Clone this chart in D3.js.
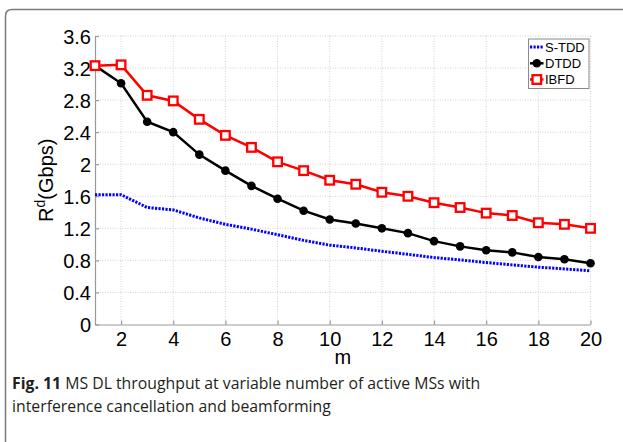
<!DOCTYPE html>
<html><head><meta charset="utf-8">
<script src="https://cdn.jsdelivr.net/npm/d3@7"></script>
<style>html,body{margin:0;padding:0;background:#fff;}svg{display:block;}</style>
</head><body>
<svg id="c" width="623" height="442"></svg>
<script>
const m = d3.range(1, 21);
const seriesNames = ["S-TDD", "DTDD", "IBFD"];
const sTDD = [1.62,1.62,1.46,1.43,1.33,1.25,1.19,1.12,1.05,0.99,0.955,0.914,0.876,0.835,0.806,0.773,0.744,0.715,0.694,0.669];
const dTDD = [3.23,3.01,2.53,2.40,2.12,1.92,1.73,1.57,1.42,1.31,1.26,1.20,1.14,1.04,0.975,0.926,0.90,0.843,0.814,0.764];
const ibfd = [3.23,3.24,2.86,2.79,2.56,2.36,2.21,2.03,1.92,1.80,1.75,1.65,1.60,1.52,1.46,1.39,1.36,1.27,1.25,1.20];
const xTicks = [2,4,6,8,10,12,14,16,18,20];
const yTicks = [0,0.4,0.8,1.2,1.6,2,2.4,2.8,3.2,3.6];
const yTickLabels = ["0","0.4","0.8","1.2","1.6","2","2.4","2.8","3.2","3.6"];
const xLabel = "m";
const captionBold = "Fig. 11";
const captionLines = [" MS DL throughput at variable number of active MSs with", "interference cancellation and beamforming"];

const svg = d3.select("#c");
// frame
svg.append("path")
  .attr("d", "M5.5,460 L5.5,16 Q5.5,9.5 12,9.5 L640,9.5")
  .attr("fill","none").attr("stroke","#7a7a7a").attr("stroke-width",1.5);

const x = d3.scaleLinear().domain([1,20]).range([95,590.5]);
const y = d3.scaleLinear().domain([0,3.6]).range([324.5,36]);

const g = svg.append("g");
// grid
g.append("g").selectAll("line").data(xTicks).join("line")
  .attr("x1",d=>x(d)).attr("x2",d=>x(d)).attr("y1",y(0)).attr("y2",y(3.6))
  .attr("stroke","#c8c8c8").attr("stroke-width",0.8).attr("stroke-dasharray","1,1.5");
g.append("g").selectAll("line").data(yTicks.slice(1)).join("line")
  .attr("x1",x(1)).attr("x2",x(20)).attr("y1",d=>y(d)).attr("y2",d=>y(d))
  .attr("stroke","#c8c8c8").attr("stroke-width",0.8).attr("stroke-dasharray","1,1.5");

// axes
const xAxis = d3.axisBottom(x).tickValues(xTicks).tickSizeInner(-4).tickSizeOuter(0).tickPadding(10).tickFormat(d3.format("d"));
const yAxis = d3.axisLeft(y).tickValues(yTicks).tickSizeInner(-4).tickSizeOuter(0).tickPadding(5).tickFormat((d,i)=>yTickLabels[i]);
const ax = svg.append("g").attr("transform",`translate(0,${y(0)})`).call(xAxis);
const ay = svg.append("g").attr("transform",`translate(${x(1)},0)`).call(yAxis);
[ax,ay].forEach(a=>{
  a.select(".domain").attr("stroke","#999").attr("stroke-width",1.2);
  a.selectAll(".tick line").attr("stroke","#999").attr("stroke-width",1.2);
  a.selectAll(".tick text").attr("font-family","'Liberation Sans', Arial, sans-serif").attr("font-size",20).attr("fill","#000");
});
ax.selectAll(".tick text").attr("dy","0.71em").attr("y",7);
ay.selectAll(".tick text").attr("x",-4).attr("dy","0.36em");

// series
const line = d3.line().x((d,i)=>x(m[i])).y(d=>y(d));
svg.append("path").datum(sTDD).attr("d",line).attr("fill","none")
  .attr("stroke","#0000ff").attr("stroke-width",3).attr("stroke-dasharray","2.2,1.3");
svg.append("path").datum(dTDD).attr("d",line).attr("fill","none")
  .attr("stroke","#000").attr("stroke-width",2.5);
svg.append("g").selectAll("circle").data(dTDD).join("circle")
  .attr("cx",(d,i)=>x(m[i])).attr("cy",d=>y(d)).attr("r",4.3).attr("fill","#000");
svg.append("path").datum(ibfd).attr("d",line).attr("fill","none")
  .attr("stroke","#ff0000").attr("stroke-width",2.5);
svg.append("g").selectAll("rect").data(ibfd).join("rect")
  .attr("x",(d,i)=>x(m[i])-4.3).attr("y",d=>y(d)-4.3).attr("width",8.6).attr("height",8.6)
  .attr("fill","#fff").attr("stroke","#ff0000").attr("stroke-width",2.3);

// axis labels
svg.append("text").attr("x",(x(1)+x(20))/2).attr("y",364).attr("text-anchor","middle")
  .attr("font-family","'Liberation Sans', Arial, sans-serif").attr("font-size",20).text(xLabel);
const yl = svg.append("text").attr("transform",`translate(53,${(y(0)+y(3.6))/2}) rotate(-90)`)
  .attr("text-anchor","middle").attr("font-family","'Liberation Sans', Arial, sans-serif").attr("font-size",20);
yl.append("tspan").text("R");
yl.append("tspan").attr("font-size",14).attr("dy",-8).text("d");
yl.append("tspan").attr("dy",8).text("(Gbps)");

// legend
const lg = svg.append("g");
lg.append("rect").attr("x",528.5).attr("y",39).attr("width",60.5).attr("height",49.5)
  .attr("fill","#fff").attr("stroke","#8a8a8a").attr("stroke-width",1);
const ly = [47,63.3,79.5];
lg.append("line").attr("x1",530).attr("x2",543.5).attr("y1",ly[0]).attr("y2",ly[0])
  .attr("stroke","#0000ff").attr("stroke-width",3).attr("stroke-dasharray","2.2,1.3");
lg.append("line").attr("x1",530).attr("x2",543.5).attr("y1",ly[1]).attr("y2",ly[1])
  .attr("stroke","#000").attr("stroke-width",2.5);
lg.append("circle").attr("cx",536.8).attr("cy",ly[1]).attr("r",4.3).attr("fill","#000");
lg.append("line").attr("x1",530).attr("x2",543.5).attr("y1",ly[2]).attr("y2",ly[2])
  .attr("stroke","#ff0000").attr("stroke-width",2.5);
lg.append("rect").attr("x",536.8-4.3).attr("y",ly[2]-4.3).attr("width",8.6).attr("height",8.6)
  .attr("fill","#fff").attr("stroke","#ff0000").attr("stroke-width",2.3);
lg.selectAll("text").data(seriesNames).join("text")
  .attr("x",545).attr("y",(d,i)=>ly[i]).attr("dy","0.36em")
  .attr("font-family","'Liberation Sans', Arial, sans-serif").attr("font-size",13).text(d=>d);

// caption
const cap = svg.append("g").attr("font-family","'Open Sans', sans-serif").attr("font-size",15.8).attr("fill","#231f20");
const t1 = cap.append("text").attr("x",12).attr("y",389);
t1.append("tspan").attr("font-weight","bold").text(captionBold);
t1.append("tspan").text(captionLines[0]);
cap.append("text").attr("x",12).attr("y",412).text(captionLines[1]);
</script>
</body></html>
